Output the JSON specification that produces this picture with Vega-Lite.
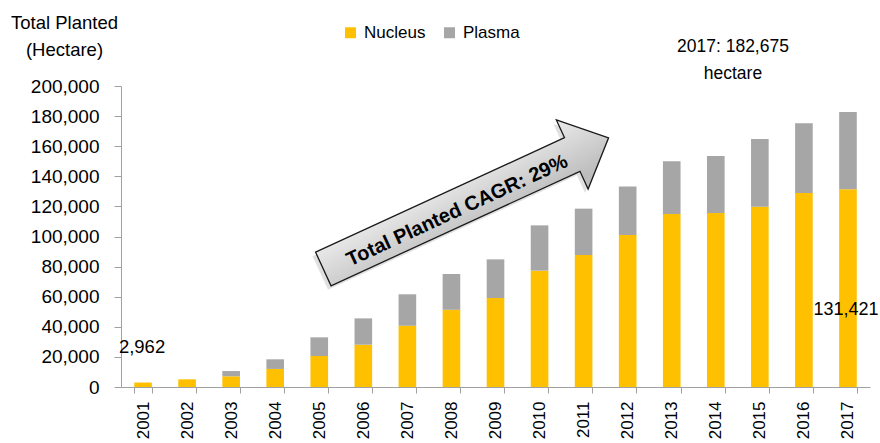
{
  "$schema": "https://vega.github.io/schema/vega-lite/v6.json",
  "width": 749,
  "height": 301,
  "autosize": {"type": "none"},
  "padding": {"left": 121, "top": 86, "right": 10, "bottom": 56},
  "background": "white",
  "config": {
    "view": {"stroke": null},
    "font": "Liberation Sans, Arial, sans-serif",
    "axis": {"labelOverlap": false}
  },
  "datasets": {
    "bars": [
      {"year": "2001", "series": "Nucleus", "value": 2962},
      {"year": "2001", "series": "Plasma", "value": 0},
      {"year": "2002", "series": "Nucleus", "value": 5100},
      {"year": "2002", "series": "Plasma", "value": 0},
      {"year": "2003", "series": "Nucleus", "value": 7100},
      {"year": "2003", "series": "Plasma", "value": 3500},
      {"year": "2004", "series": "Nucleus", "value": 12000},
      {"year": "2004", "series": "Plasma", "value": 6400},
      {"year": "2005", "series": "Nucleus", "value": 20600},
      {"year": "2005", "series": "Plasma", "value": 12400},
      {"year": "2006", "series": "Nucleus", "value": 28100},
      {"year": "2006", "series": "Plasma", "value": 17500},
      {"year": "2007", "series": "Nucleus", "value": 40700},
      {"year": "2007", "series": "Plasma", "value": 20900},
      {"year": "2008", "series": "Nucleus", "value": 51300},
      {"year": "2008", "series": "Plasma", "value": 23800},
      {"year": "2009", "series": "Nucleus", "value": 59100},
      {"year": "2009", "series": "Plasma", "value": 25700},
      {"year": "2010", "series": "Nucleus", "value": 77300},
      {"year": "2010", "series": "Plasma", "value": 30100},
      {"year": "2011", "series": "Nucleus", "value": 87700},
      {"year": "2011", "series": "Plasma", "value": 30800},
      {"year": "2012", "series": "Nucleus", "value": 101000},
      {"year": "2012", "series": "Plasma", "value": 32300},
      {"year": "2013", "series": "Nucleus", "value": 115000},
      {"year": "2013", "series": "Plasma", "value": 35000},
      {"year": "2014", "series": "Nucleus", "value": 115600},
      {"year": "2014", "series": "Plasma", "value": 37900},
      {"year": "2015", "series": "Nucleus", "value": 119800},
      {"year": "2015", "series": "Plasma", "value": 45000},
      {"year": "2016", "series": "Nucleus", "value": 128900},
      {"year": "2016", "series": "Plasma", "value": 46300},
      {"year": "2017", "series": "Nucleus", "value": 131421},
      {"year": "2017", "series": "Plasma", "value": 51254}
    ],
    "labels": [
      {"id": "first", "year": "2001", "value": 2962, "label": "2,962"},
      {"id": "nucleus", "year": "2017", "value": 131421, "label": "131,421"},
      {"id": "total", "year": "2017", "value": 182675, "label": "2017: 182,675\nhectare"}
    ],
    "arrow": [
      {"year": "2008", "value": 122000, "label": "Total Planted CAGR: 29%"}
    ]
  },
  "encoding": {
    "x": {
      "field": "year", "type": "ordinal",
      "scale": {"paddingInner": 0.6, "paddingOuter": 0.3},
      "axis": {
        "title": null, "labelAngle": -90, "labelAlign": "right", "labelBaseline": "middle",
        "labelFontSize": 17, "labelColor": "#000", "labelPadding": 8,
        "tickSize": 6, "tickBand": "extent", "grid": false,
        "domainColor": "#A0A0A0", "tickColor": "#A0A0A0"
      }
    },
    "y": {
      "field": "value", "type": "quantitative",
      "scale": {"domain": [0, 200000], "nice": false},
      "axis": {
        "title": ["Total Planted", "(Hectare)"],
        "titleAngle": 0, "titleAlign": "center", "titleBaseline": "alphabetic",
        "titleX": -57, "titleY": -58, "titleFontSize": 18.5, "titleFontWeight": "normal",
        "titleColor": "#000", "titleLineHeight": 27,
        "values": [0, 20000, 40000, 60000, 80000, 100000, 120000, 140000, 160000, 180000, 200000],
        "format": ",.0f", "labelFontSize": 19, "labelColor": "#000", "labelPadding": 15,
        "labelOverlap": false, "tickSize": 7, "grid": false,
        "domainColor": "#A0A0A0", "tickColor": "#A0A0A0"
      }
    }
  },
  "layer": [
    {
      "data": {"name": "bars"},
      "mark": {"type": "bar"},
      "encoding": {
        "color": {
          "field": "series", "type": "nominal",
          "scale": {"domain": ["Nucleus", "Plasma"], "range": ["#FFC000", "#A6A6A6"]},
          "legend": {
            "orient": "none", "legendX": 221, "legendY": -62, "direction": "horizontal",
            "title": null, "symbolType": "square", "symbolSize": 121, "symbolStrokeWidth": 0,
            "labelFontSize": 17, "labelColor": "#000", "labelOffset": 5, "columnPadding": 15
          }
        },
        "order": {"field": "series", "sort": "ascending"}
      }
    },
    {
      "data": {"name": "arrow"},
      "mark": {
        "type": "point",
        "shape": "M-157,-18.5L117,-18.5L117,-38L157,0L117,38L117,18.5L-157,18.5Z",
        "size": 4, "angle": 335.3, "filled": true,
        "fill": "#000", "fillOpacity": 0.12, "strokeWidth": 0,
        "xOffset": 11.5, "yOffset": 4
      }
    },
    {
      "data": {"name": "arrow"},
      "mark": {
        "type": "point",
        "shape": "M-157,-18.5L117,-18.5L117,-38L157,0L117,38L117,18.5L-157,18.5Z",
        "size": 4, "angle": 335.3, "filled": true,
        "fill": {
          "gradient": "linear", "x1": 0, "y1": 0, "x2": 0.25, "y2": 1,
          "stops": [{"offset": 0, "color": "#F6F6F6"}, {"offset": 1, "color": "#BCBCBC"}]
        },
        "stroke": "#1A1A1A", "strokeWidth": 1.3, "opacity": 1,
        "xOffset": 14.5
      }
    },
    {
      "data": {"name": "arrow"},
      "mark": {
        "type": "text", "angle": 335.3, "fontSize": 20, "fontWeight": "bold",
        "align": "center", "baseline": "middle", "color": "#000",
        "xOffset": 14.5, "dx": -11, "dy": 3
      },
      "encoding": {"text": {"field": "label"}}
    },
    {
      "data": {"name": "labels"},
      "transform": [{"filter": "datum.id === 'first'"}],
      "mark": {"type": "text", "fontSize": 18.5, "align": "center", "baseline": "middle", "color": "#000", "dx": -1, "dy": -35.5},
      "encoding": {"text": {"field": "label"}}
    },
    {
      "data": {"name": "labels"},
      "transform": [{"filter": "datum.id === 'nucleus'"}],
      "mark": {"type": "text", "fontSize": 18, "align": "center", "baseline": "middle", "color": "#000", "dx": -2, "dy": 121},
      "encoding": {"text": {"field": "label"}}
    },
    {
      "data": {"name": "labels"},
      "transform": [{"filter": "datum.id === 'total'"}],
      "mark": {"type": "text", "fontSize": 17.5, "align": "center", "baseline": "middle", "color": "#000", "dx": -115, "dy": -65.5, "lineBreak": "\n", "lineHeight": 27},
      "encoding": {"text": {"field": "label"}}
    }
  ]
}
